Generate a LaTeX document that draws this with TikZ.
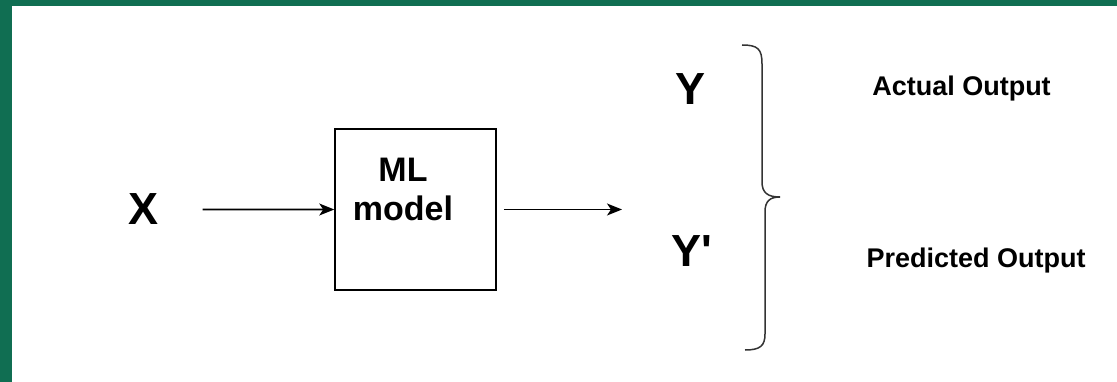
\documentclass[tikz,border=0pt]{standalone}
\usepackage{fontspec}
\setmainfont{Liberation Sans}
\usetikzlibrary{arrows.meta}
\definecolor{frame}{HTML}{106E52}
\definecolor{bracecol}{HTML}{333333}
\begin{document}
\begin{tikzpicture}[x=1pt,y=-1pt,
  big/.style={font=\bfseries\fontsize{45}{50}\selectfont, anchor=base, inner sep=0pt},
  mid/.style={font=\bfseries\fontsize{34}{40}\selectfont, anchor=base, inner sep=0pt},
  small/.style={font=\bfseries\fontsize{27}{32}\selectfont, anchor=base, inner sep=0pt},
  box/.style={draw, line width=1.5pt, minimum width=161pt, minimum height=161pt, inner sep=0pt},
  arr/.style={line width=1.7pt, -{Stealth[length=15pt,width=12pt,inset=4pt]}}]
\useasboundingbox (0,0) rectangle (1117,382);
\fill[white] (0,0) rectangle (1117,382);
\fill[frame] (0,0) rectangle (1117,6);
\fill[frame] (0,0) rectangle (12,382);

\node[big] (x) at (143.5,225) {X};
\node[box] (ml) at (415.5,209.5) {};
\node[mid] (mlA) at (403,182) {ML};
\node[mid] (mlB) at (403,221) {model};
\coordinate (out) at (622,209.5);
\node[big] (y) at (690.5,105) {Y};
\node[big] (yp) at (692,266) {Y\textquotesingle};
\node[small] (actual) at (961.5,96) {Actual Output};
\node[small] (pred) at (976,268) {Predicted Output};

\draw[arr, shorten <=44pt] (x.east) -- (ml.west);
\draw[arr, shorten <=7pt] (ml.east) -- (out);

\draw[bracecol, line width=1.5pt]
  (742,45) .. controls (758,45) and (762,49) .. (762,64) -- (762,182)
  .. controls (762,193) and (768,197) .. (780,197)
  .. controls (770,197) and (765,201) .. (765,212) -- (765,334)
  .. controls (765,346) and (760,350) .. (745,350);
\end{tikzpicture}
\end{document}
